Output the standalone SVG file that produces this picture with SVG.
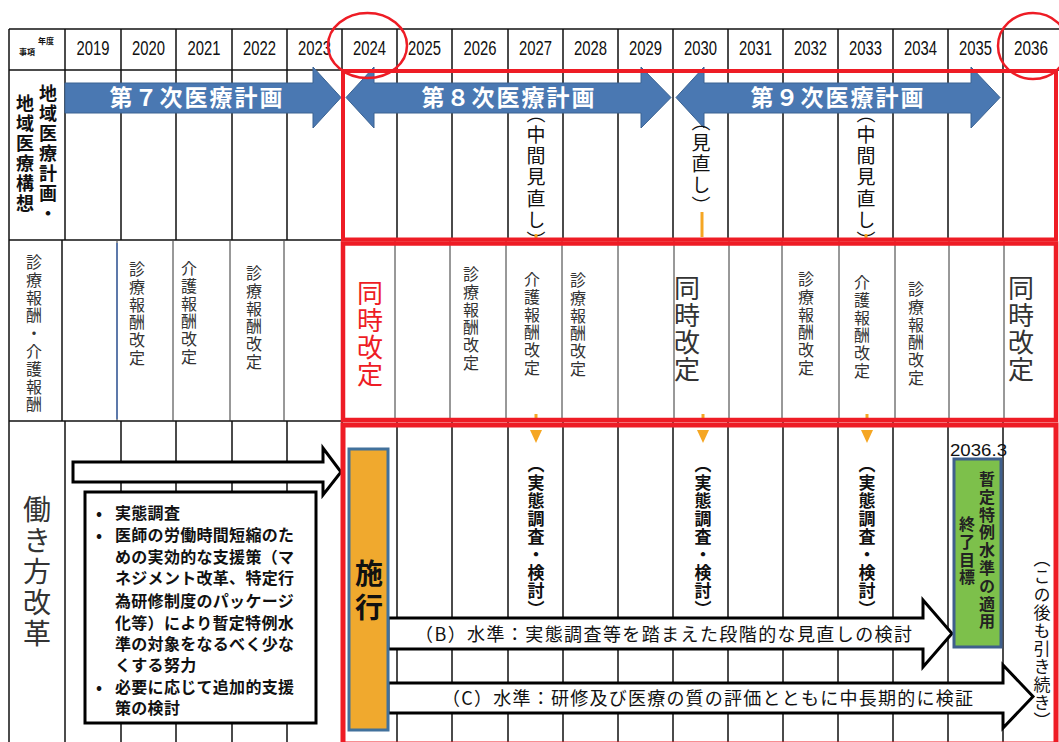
<svg xmlns="http://www.w3.org/2000/svg" width="1059" height="742" viewBox="0 0 1059 742">
<style>
.grid{stroke:#111;stroke-width:1.5;fill:none}
.thin{stroke:#333;stroke-width:1;fill:none}
.yr{font-family:"Liberation Sans",sans-serif;font-size:20px;fill:#111;text-anchor:middle}
.jp{font-family:"Noto Sans CJK JP",sans-serif}
.v{writing-mode:vertical-rl;font-family:"Noto Sans CJK JP",sans-serif}
.red{fill:none;stroke:#EE1C25}
.blue{fill:#4A78B2;stroke:#3A6292;stroke-width:1}
.btxt{font-family:"Noto Sans CJK JP",sans-serif;font-size:23px;font-weight:bold;fill:#fff;text-anchor:middle;letter-spacing:2px}
.warr{fill:#fff;stroke:#000;stroke-width:3}
.ora{fill:#F5A623}
.r2{font-size:16px;letter-spacing:1.8px;fill:#333}
.big{font-size:26px;letter-spacing:1px;fill:#333}
.jt{font-size:17px;font-weight:bold;letter-spacing:1px;fill:#111}
.box{font-family:"Noto Sans CJK JP",sans-serif;font-size:16px;font-weight:bold;fill:#111;letter-spacing:0.3px}
</style>
<rect width="1059" height="742" fill="#fff"/>

<g id="grid">
  <line class="grid" x1="9" y1="29" x2="1059" y2="29"/>
  <line class="grid" x1="9" y1="70" x2="1059" y2="70"/>
  <line class="grid" x1="9" y1="240" x2="343" y2="240"/>
  <line class="grid" x1="9" y1="421" x2="343" y2="421"/>
  <line class="grid" x1="9" y1="29" x2="9" y2="742"/>
  <line class="grid" x1="65" y1="29" x2="65" y2="240"/>
  <line class="grid" x1="62" y1="240" x2="62" y2="421"/>
  <line class="grid" x1="65" y1="421" x2="65" y2="742"/>
  <path class="grid" d="M121,29V240 M176,29V240 M232,29V240 M287,29V240 M342,29V240 M397,29V240 M452,29V240 M508,29V240 M563,29V240 M618,29V240 M673,29V240 M728,29V240 M783,29V240 M838,29V240 M893,29V240 M948,29V240 M1003,29V240"/>
  <path class="thin" d="M117,241V421 M173,241V421 M230,241V421 M284,241V421 M395,241V421 M450,241V421 M506,241V421 M562,241V421 M618,241V421 M674,241V421 M729,241V421 M782,241V421 M839,241V421 M895,241V421 M949,241V421 M1004,241V421"/>
  <line x1="117" y1="243" x2="117" y2="419" stroke="#4A6FB0" stroke-width="1.5"/>
  <path class="grid" d="M121,421V742 M176,421V742 M232,421V742 M287,421V742 M342,421V742 M397,421V742 M452,421V742 M508,421V742 M563,421V742 M618,421V742 M673,421V742 M728,421V742 M783,421V742 M838,421V742 M893,421V742 M948,421V742 M1003,421V742"/>
</g>

<g id="header">
  <text class="jp" x="38" y="44" font-size="8" font-weight="bold" fill="#111">年度</text>
  <text class="jp" x="19" y="55" font-size="8" font-weight="bold" fill="#111">事項</text>
  <g class="yr">
    <text x="93" y="55" textLength="33" lengthAdjust="spacingAndGlyphs">2019</text>
    <text x="148.5" y="55" textLength="33" lengthAdjust="spacingAndGlyphs">2020</text>
    <text x="204" y="55" textLength="33" lengthAdjust="spacingAndGlyphs">2021</text>
    <text x="259.5" y="55" textLength="33" lengthAdjust="spacingAndGlyphs">2022</text>
    <text x="314.5" y="55" textLength="33" lengthAdjust="spacingAndGlyphs">2023</text>
    <text x="369.5" y="55" textLength="33" lengthAdjust="spacingAndGlyphs">2024</text>
    <text x="424.5" y="55" textLength="33" lengthAdjust="spacingAndGlyphs">2025</text>
    <text x="480" y="55" textLength="33" lengthAdjust="spacingAndGlyphs">2026</text>
    <text x="535.5" y="55" textLength="33" lengthAdjust="spacingAndGlyphs">2027</text>
    <text x="590.5" y="55" textLength="33" lengthAdjust="spacingAndGlyphs">2028</text>
    <text x="645.5" y="55" textLength="33" lengthAdjust="spacingAndGlyphs">2029</text>
    <text x="700.5" y="55" textLength="33" lengthAdjust="spacingAndGlyphs">2030</text>
    <text x="755.5" y="55" textLength="33" lengthAdjust="spacingAndGlyphs">2031</text>
    <text x="810.5" y="55" textLength="33" lengthAdjust="spacingAndGlyphs">2032</text>
    <text x="865.5" y="55" textLength="33" lengthAdjust="spacingAndGlyphs">2033</text>
    <text x="920.5" y="55" textLength="33" lengthAdjust="spacingAndGlyphs">2034</text>
    <text x="975.5" y="55" textLength="33" lengthAdjust="spacingAndGlyphs">2035</text>
    <text x="1031" y="55" textLength="34" lengthAdjust="spacingAndGlyphs">2036</text>
  </g>
</g>

<g id="row1-label">
  <text class="v" x="48" y="84" font-size="18" font-weight="bold" letter-spacing="2" fill="#111">地域医療計画・</text>
  <text class="v" x="25" y="94" font-size="18" font-weight="bold" letter-spacing="2" fill="#111">地域医療構想</text>
</g>

<g id="plan7">
  <path class="blue" d="M65,83 H313 V67 L341,97.5 L313,128 V113 H65 Z"/>
  <text class="btxt" x="197" y="106">第７次医療計画</text>
</g>
<g id="plan8">
  <path class="blue" d="M346,97.5 L374,67 V83 H641 V67 L671,97.5 L641,128 V113 H374 V128 Z"/>
  <text class="btxt" x="509" y="106">第８次医療計画</text>
</g>
<g id="plan9">
  <path class="blue" d="M676,97.5 L704,67 V83 H971 V67 L1000,97.5 L971,128 V113 H704 V128 Z"/>
  <text class="btxt" x="838" y="106">第９次医療計画</text>
</g>

<g id="row1-notes">
  <text class="v" x="536" y="104" font-size="19" letter-spacing="2.2" fill="#111">（中間見直し）</text>
  <text class="v" x="701" y="112" font-size="19" letter-spacing="2" fill="#111">（見直し）</text>
  <text class="v" x="866" y="104" font-size="19" letter-spacing="2.2" fill="#111">（中間見直し）</text>
</g>

<g id="row2-label">
  <text class="v r2" x="34" y="254">診療報酬・介護報酬</text>
</g>
<g id="row2-items">
  <text class="v r2" x="137" y="261">診療報酬改定</text>
  <text class="v r2" x="189" y="260">介護報酬改定</text>
  <text class="v r2" x="254" y="265">診療報酬改定</text>
  <text class="v" x="370" y="280" font-size="26" letter-spacing="1" fill="#EE1C25">同時改定</text>
  <text class="v r2" x="471" y="266">診療報酬改定</text>
  <text class="v r2" x="532" y="271">介護報酬改定</text>
  <text class="v r2" x="578" y="272">診療報酬改定</text>
  <text class="v big" x="687" y="275">同時改定</text>
  <text class="v r2" x="806" y="271">診療報酬改定</text>
  <text class="v r2" x="862" y="274">介護報酬改定</text>
  <text class="v r2" x="916" y="281">診療報酬改定</text>
  <text class="v big" x="1021" y="275">同時改定</text>
</g>

<g id="row3-label">
  <text class="v" x="37" y="495" font-size="28" letter-spacing="3" fill="#333">働き方改革</text>
</g>

<g id="connectors">
  <path class="warr" d="M73,462 H323 V448 L341,472 L323,495 V482 H73 Z"/>
  <line x1="702" y1="212" x2="702" y2="237" stroke="#F5A623" stroke-width="3"/>
  <line x1="536" y1="234" x2="536" y2="238" stroke="#F5A623" stroke-width="3"/>
  <line x1="866" y1="234" x2="866" y2="238" stroke="#F5A623" stroke-width="3"/>
  <line x1="536" y1="414" x2="536" y2="419" stroke="#F5A623" stroke-width="3"/>
  <line x1="703" y1="414" x2="703" y2="419" stroke="#F5A623" stroke-width="3"/>
  <line x1="867" y1="414" x2="867" y2="419" stroke="#F5A623" stroke-width="3"/>
  <path class="ora" d="M530,430 H542 L536,443 Z"/>
  <path class="ora" d="M697,430 H709 L703,443 Z"/>
  <path class="ora" d="M861,430 H873 L867,443 Z"/>
</g>

<g id="measures">
  <rect x="85" y="492" width="231" height="231" fill="#fff" stroke="#000" stroke-width="3"/>
  <g class="box">
    <text x="96" y="519">•</text><text x="115" y="519">実態調査</text>
    <text x="96" y="541">•</text><text x="115" y="541">医師の労働時間短縮のた</text>
    <text x="115" y="563">めの実効的な支援策（マ</text>
    <text x="115" y="584">ネジメント改革、特定行</text>
    <text x="115" y="607">為研修制度のパッケージ</text>
    <text x="115" y="629">化等）により暫定特例水</text>
    <text x="115" y="650">準の対象をなるべく少な</text>
    <text x="115" y="671">くする努力</text>
    <text x="96" y="693">•</text><text x="115" y="693">必要に応じて追加的支援</text>
    <text x="115" y="714">策の検討</text>
  </g>
</g>

<g id="level-b">
  <path class="warr" d="M388,618 H923 V600 L952,633.5 L923,667 V649 H388 Z"/>
  <text class="jp" x="415" y="641" font-size="18" fill="#111" textLength="497" lengthAdjust="spacing">（B）水準：実態調査等を踏まえた段階的な見直しの検討</text>
</g>
<g id="level-c">
  <path class="warr" d="M388,683 H1003 V665 L1033,696.5 L1003,728 V713 H388 Z"/>
  <text class="jp" x="442" y="705" font-size="18" fill="#111" textLength="531" lengthAdjust="spacing">（C）水準：研修及び医療の質の評価とともに中長期的に検証</text>
</g>

<g id="enforce">
  <rect x="349" y="449" width="39" height="281" fill="#F0A92E" stroke="#41719C" stroke-width="3"/>
  <text class="v" x="369" y="559" font-size="28" font-weight="bold" letter-spacing="6" fill="#111">施行</text>
</g>

<g id="surveys">
  <text class="v jt" x="536" y="456">（実態調査・検討）</text>
  <text class="v jt" x="703" y="456">（実態調査・検討）</text>
  <text class="v jt" x="867" y="456">（実態調査・検討）</text>
</g>

<g id="goal">
  <text x="950" y="456" font-family="Liberation Sans, sans-serif" font-size="17" fill="#111" textLength="57" lengthAdjust="spacingAndGlyphs">2036.3</text>
  <rect x="954" y="459" width="47" height="188" fill="#7DC04B" stroke="#3F5F8C" stroke-width="3"/>
  <text class="v" x="987" y="471" font-size="16" letter-spacing="1.8" font-weight="bold" fill="#222">暫定特例水準の適用</text>
  <text class="v" x="967" y="516" font-size="16" letter-spacing="1.8" font-weight="bold" fill="#222">終了目標</text>
</g>

<g id="continue">
  <text class="v" x="1042" y="550" font-size="17" letter-spacing="1" fill="#111">（この後も引き続き）</text>
</g>

<g id="highlights">
  <rect class="red" x="343" y="71" width="713" height="168.5" stroke-width="4"/>
  <rect class="red" x="343" y="243.5" width="713" height="176.5" stroke-width="4.5"/>
  <rect class="red" x="343" y="425" width="713" height="319" stroke-width="5"/>
  <ellipse class="red" cx="367.5" cy="45.5" rx="39.5" ry="32.5" stroke-width="2.5"/>
  <ellipse class="red" cx="1033" cy="46" rx="35" ry="33" stroke-width="2.5"/>
</g>
</svg>
